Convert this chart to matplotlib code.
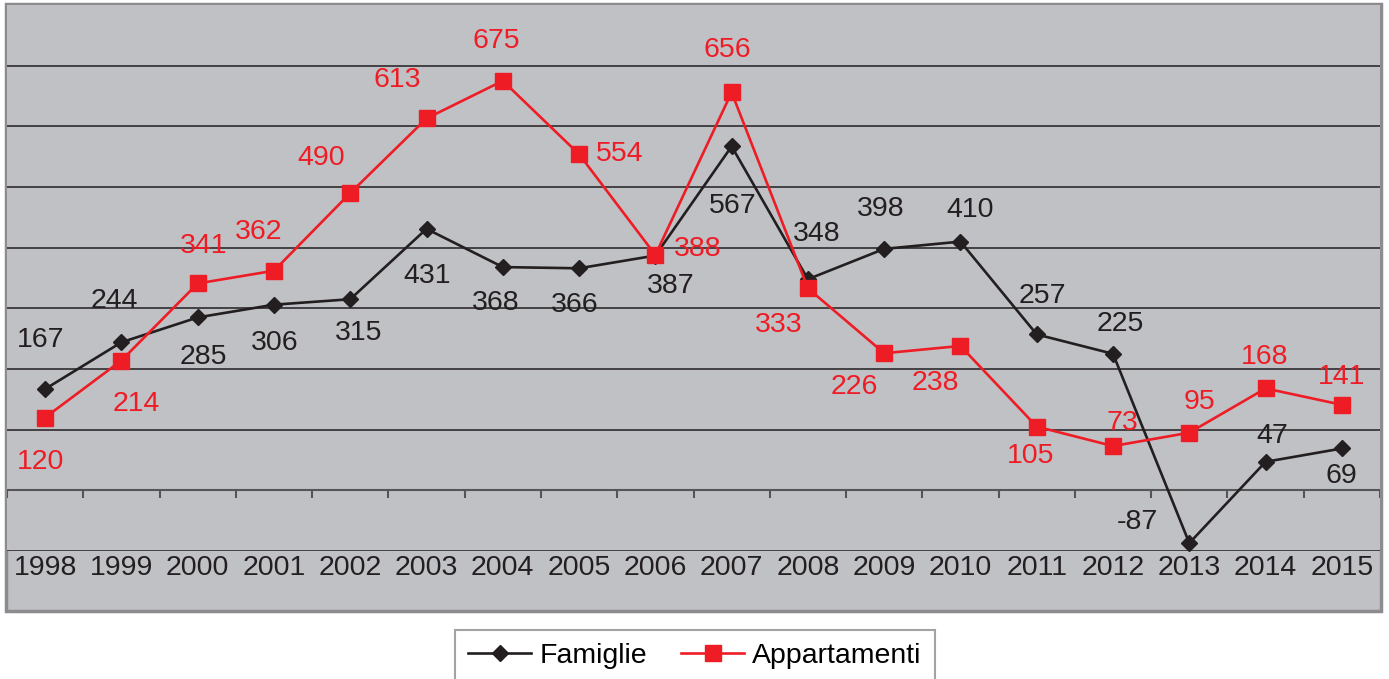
import matplotlib
matplotlib.use("Agg")
import matplotlib.pyplot as plt
from matplotlib.patches import Rectangle

plt.rcParams["font.family"] = ["Liberation Sans", "DejaVu Sans"]

years = [str(y) for y in range(1998, 2016)]
famiglie = [167, 244, 285, 306, 315, 431, 368, 366, 387, 567, 348, 398, 410, 257, 225, -87, 47, 69]
appartamenti = [120, 214, 341, 362, 490, 613, 675, 554, 388, 656, 333, 226, 238, 105, 73, 95, 168, 141]

# label offsets (pixels, text centre relative to marker)
fam_off = [(-5, 49), (-7, 41), (6, -40), (1, -38), (8, -34), (1, -47), (-7, -36), (-4, -37),
           (15, -30), (1, -60), (9, 45), (-3, 40), (10, 32), (6, 38), (7, 30), (-52, 21),
           (7, 26), (0, -28)]
app_off = [(-5, -44), (15, -43), (6, 37), (-15, 39), (-29, 35), (-29, 38), (-6, 40), (41, 0),
           (42, 6), (-4, 42), (-29, -37), (-30, -34), (-25, -37), (-6, -29), (9, 23), (10, 31),
           (-1, 31), (0, 28)]

BG = "#c0c1c5"
BLACK = "#231f20"
RED = "#ee1c25"
GRID = "#2e2c2e"
FS = 20.5

W, H = 1389, 679
fig = plt.figure(figsize=(W / 100, H / 100), dpi=100)
fig.patch.set_facecolor("white")

# outer chart frame
fig.add_artist(Rectangle((6 / W, 1 - 611 / H), 1375 / W, 607 / H, transform=fig.transFigure,
                         facecolor=BG, edgecolor="#8c8c8e", lw=2.5, zorder=0))

ax = fig.add_axes([7 / W, 1 - 551 / H, 1373 / W, 546 / H])
ax.set_facecolor(BG)
for s in ax.spines.values():
    s.set_visible(False)
ax.set_xlim(-0.5, len(years) - 0.5)
ax.set_ylim(-100, 800)

for v in range(100, 800, 100):
    ax.axhline(v, color=GRID, lw=1.2, zorder=1)
ax.axhline(-100, color=GRID, lw=1.2, zorder=1)
ax.axhline(0, color="#555557", lw=1.5, zorder=1)
ax.vlines([k + 0.5 for k in range(-1, len(years))], -13, 0, color="#555557", lw=1.5, zorder=1)

x = list(range(len(years)))
ax.plot(x, famiglie, color=BLACK, lw=1.9, marker="D", ms=8.5, label="Famiglie", zorder=3)
ax.plot(x, appartamenti, color=RED, lw=1.9, marker="s", ms=11, label="Appartamenti", zorder=4)

for i, v in enumerate(famiglie):
    ax.annotate(str(v), (i, v), xytext=fam_off[i], textcoords="offset pixels",
                ha="center", va="center", fontsize=FS, color=BLACK, zorder=5)
for i, v in enumerate(appartamenti):
    ax.annotate(str(v), (i, v), xytext=app_off[i], textcoords="offset pixels",
                ha="center", va="center", fontsize=FS, color=RED, zorder=5)

ax.set_xticks(x)
ax.set_xticklabels(years, fontsize=FS, color=BLACK)
ax.tick_params(axis="x", length=0, pad=3)
ax.set_yticks([])

leg = fig.legend(loc="upper center", bbox_to_anchor=(695 / W, 1 - 630 / H), ncol=2,
                 fontsize=FS, frameon=True, fancybox=False, edgecolor="#8c8c8e",
                 handlelength=2.2, handletextpad=0.3, columnspacing=1.2, borderpad=0.45,
                 borderaxespad=0)
leg.get_frame().set_linewidth(1.5)

fig.savefig("out.png", dpi=100)
